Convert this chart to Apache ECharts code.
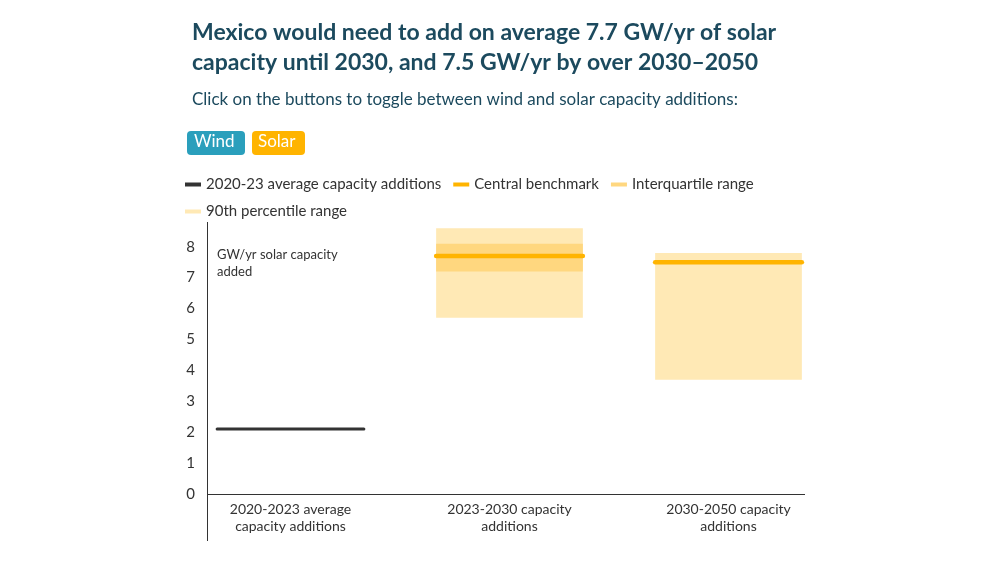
<!DOCTYPE html><html><head><meta charset="utf-8"><script src="https://cdn.jsdelivr.net/npm/echarts@6/dist/echarts.min.js"></script>
<style>body{margin:0}#c{width:1000px;height:563px}</style></head><body><div id="c"></div><script>
const categories=['2020-2023 average\ncapacity additions','2023-2030 capacity\nadditions','2030-2050 capacity\nadditions'];
const historic=[2.1,null,null];
const central=[null,7.7,7.5];
const iqrLow=[null,7.2,7.5];
const iqrHigh=[null,8.1,7.5];
const p90Low=[null,5.7,3.7];
const p90High=[null,8.6,7.8];
const C={dark:'#333',central:'#ffb400',iqr:'#ffd77f',p90:'#ffe9b5'};
function rangeSeries(name,lo,hi,color,z){return{name,type:'custom',z,color,data:categories.map((c,i)=>[i,lo[i],hi[i]]).filter(d=>d[1]!=null),
renderItem(p,api){const a=api.coord([api.value(0),api.value(1)]),b=api.coord([api.value(0),api.value(2)]);const w=api.size([1,0])[0]*0.67;
return{type:'rect',shape:{x:a[0]-w/2,y:b[1],width:w,height:Math.max(a[1]-b[1],0)},style:{fill:color}}}}}
function lineSeries(name,vals,color,w){return{name,type:'custom',z:5,color,data:categories.map((c,i)=>[i,vals[i]]).filter(d=>d[1]!=null),
renderItem(p,api){const a=api.coord([api.value(0),api.value(1)]);const hw=api.size([1,0])[0]*0.335;
return{type:'line',shape:{x1:a[0]-hw,y1:a[1],x2:a[0]+hw,y2:a[1]},style:{stroke:color,lineWidth:w,lineCap:'round'}}}}}
const ch=echarts.init(document.getElementById('c'));
ch.setOption({animation:false,
title:[{text:'Mexico would need to add on average 7.7 GW/yr of solar\ncapacity until 2030, and 7.5 GW/yr by over 2030–2050',left:187,top:13,textStyle:{fontFamily:'Lato',fontSize:23,fontWeight:'bold',color:'#1c4a5e',lineHeight:30}},
{text:'Click on the buttons to toggle between wind and solar capacity additions:',left:187,top:86,textStyle:{fontFamily:'Lato',fontSize:17,fontWeight:'normal',color:'#1c4a5e'}}],
legend:{left:180,top:172,width:640,itemWidth:16,itemHeight:4,icon:'rect',itemGap:12,textStyle:{fontFamily:'Lato',fontSize:15,color:'#333'},
data:['2020-23 average capacity additions','Central benchmark','Interquartile range','90th percentile range']},
graphic:[{type:'rect',left:187,top:131,shape:{width:58,height:24,r:4},style:{fill:'#2a9fbc'}},
{type:'text',left:194,top:133,style:{text:'Wind',fill:'#fff',font:'17px Lato'}},
{type:'rect',left:252,top:131,shape:{width:53,height:24,r:4},style:{fill:'#ffb400'}},
{type:'text',left:258,top:133,style:{text:'Solar',fill:'#fff',font:'17px Lato'}},
{type:'line',shape:{x1:207.5,y1:222,x2:207.5,y2:541},style:{stroke:'#333',lineWidth:1}},
{type:'line',shape:{x1:207,y1:494.5,x2:805,y2:494.5},style:{stroke:'#333',lineWidth:1}},
{type:'text',left:217,top:246,style:{text:'GW/yr solar capacity\nadded',fill:'#333',font:'13px Lato',lineHeight:17}}],
grid:{left:181,right:162,top:222,bottom:69},
xAxis:{type:'category',data:categories,axisTick:{show:false},axisLine:{show:false},axisLabel:{fontFamily:'Lato',fontSize:14,color:'#333',margin:7,lineHeight:17}},
yAxis:{type:'value',min:0,max:8.8,interval:1,offset:-26,splitLine:{show:false},axisLine:{show:false},axisTick:{show:false},
axisLabel:{fontFamily:'Lato',fontSize:15,color:'#333',margin:12,formatter:v=>Number.isInteger(v)?v:''}},
series:[lineSeries('2020-23 average capacity additions',historic,C.dark,3),
rangeSeries('90th percentile range',p90Low,p90High,C.p90,1),
rangeSeries('Interquartile range',iqrLow,iqrHigh,C.iqr,2),
lineSeries('Central benchmark',central,C.central,4.5)]});
</script></body></html>
